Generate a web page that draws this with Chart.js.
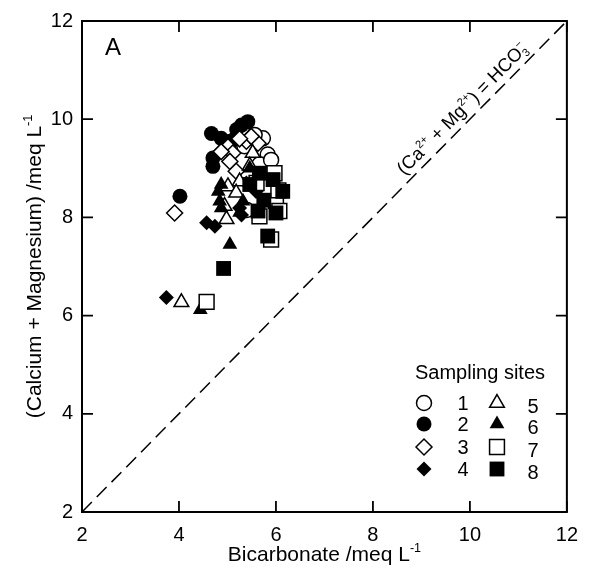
<!DOCTYPE html>
<html>
<head>
<meta charset="utf-8">
<script src="https://cdn.jsdelivr.net/npm/chart.js@4"></script>
<style>
  html, body { margin: 0; padding: 0; background: #fff; }
  canvas { display: block; }
</style>
</head>
<body>
<canvas id="chart" width="589" height="578"></canvas>
<script>
const FONT = "'Liberation Sans', Arial, sans-serif";

// axis ticks (meq/L)
const xTicks = [2, 4, 6, 8, 10, 12];
const yTicks = [2, 4, 6, 8, 10, 12];

// bicarbonate (x) vs calcium + magnesium (y), meq/L, per sampling site
const site1HCO3 = [5.73, 5.83, 5.56, 5.18, 5.40, 5.66, 5.90, 5.35];
const site1CaMg = [9.61, 9.28, 9.68, 9.61, 8.15, 9.08, 9.17, 9.45];
const site2HCO3 = [4.67, 4.87, 5.29, 5.42, 4.70, 4.70, 4.02, 5.19, 5.05];
const site2CaMg = [9.71, 9.61, 9.88, 9.95, 9.21, 9.04, 8.43, 9.79, 9.55];
const site3HCO3 = [5.01, 5.11, 5.05, 5.18, 5.39, 5.63, 5.49, 4.87, 3.91, 5.25];
const site3CaMg = [9.44, 9.31, 9.14, 8.94, 9.55, 9.51, 9.65, 9.34, 8.09, 9.60];
const site4HCO3 = [4.57, 4.74, 5.25, 5.59, 5.39, 3.74, 5.29];
const site4CaMg = [7.89, 7.82, 8.19, 8.53, 8.70, 6.37, 8.05];
const site5HCO3 = [5.52, 5.25, 5.01, 5.18, 4.94, 4.98, 4.05, 5.46];
const site5CaMg = [9.31, 8.73, 8.63, 8.50, 8.23, 7.96, 6.27, 9.05];
const site6HCO3 = [4.87, 4.81, 4.84, 4.87, 5.32, 5.46, 5.05, 4.44, 5.25];
const site6CaMg = [8.67, 8.53, 8.33, 8.19, 8.33, 9.00, 7.45, 6.12, 8.10];
const site7HCO3 = [5.97, 6.00, 5.66, 5.90, 6.07, 4.57, 5.60, 6.05];
const site7CaMg = [8.90, 8.33, 8.02, 7.55, 8.13, 6.28, 8.70, 8.55];
const site8HCO3 = [5.66, 5.94, 6.14, 5.63, 6.00, 5.83, 4.92, 5.46, 5.75];
const site8CaMg = [8.90, 8.77, 8.53, 8.13, 8.09, 7.62, 6.96, 8.67, 8.35];

// 1:1 line (Ca2+ + Mg2+) = HCO3-
const lineHCO3 = [2, 12];
const lineCaMg = [2, 12];

const siteLabels = ["1", "2", "3", "4", "5", "6", "7", "8"];
const siteHCO3 = [site1HCO3, site2HCO3, site3HCO3, site4HCO3, site5HCO3, site6HCO3, site7HCO3, site8HCO3];
const siteCaMg = [site1CaMg, site2CaMg, site3CaMg, site4CaMg, site5CaMg, site6CaMg, site7CaMg, site8CaMg];

// marker look per site
const markers = [
  { style: "circle",   filled: false, r: 7.5 },
  { style: "circle",   filled: true,  r: 7.5 },
  { style: "rectRot",  filled: false, r: 8 },
  { style: "rectRot",  filled: true,  r: 7.5 },
  { style: "triangle", filled: false, r: 8.5 },
  { style: "triangle", filled: true,  r: 8.5 },
  { style: "rect",     filled: false, r: 10.5 },
  { style: "rect",     filled: true,  r: 10.5 }
];

const toPoints = (xs, ys) => xs.map((x, i) => ({ x, y: ys[i] }));

const datasets = siteLabels.map((lab, i) => ({
  label: lab,
  data: toPoints(siteHCO3[i], siteCaMg[i]),
  pointStyle: markers[i].style,
  pointRadius: markers[i].r,
  pointHoverRadius: markers[i].r,
  backgroundColor: markers[i].filled ? "#000" : "#fff",
  borderColor: "#000",
  borderWidth: markers[i].filled ? 0 : 1.5,
  order: 8 - i   // later sites drawn on top
}));

datasets.push({
  label: "1:1",
  data: toPoints(lineHCO3, lineCaMg),
  showLine: true,
  pointRadius: 0,
  borderColor: "#000",
  borderWidth: 1.5,
  borderDash: [14, 7],
  order: 50
});

// text with super/subscripts: parts = [[text, mode]], mode n|sup|sub|subsup
function richWidth(ctx, parts, size) {
  let w = 0;
  parts.forEach(([t, m]) => {
    if (m === "n") { ctx.font = size + "px " + FONT; w += ctx.measureText(t).width; }
    else if (m === "subsup") {
      ctx.font = (size * 0.6) + "px " + FONT;
      w += Math.max(ctx.measureText(t[0]).width, ctx.measureText(t[1]).width);
    } else { ctx.font = (size * 0.6) + "px " + FONT; w += ctx.measureText(t).width; }
  });
  return w;
}
function drawRich(ctx, parts, x, y, size) {
  let cx = x;
  ctx.textBaseline = "alphabetic";
  ctx.textAlign = "left";
  parts.forEach(([t, m]) => {
    if (m === "n") {
      ctx.font = size + "px " + FONT;
      ctx.fillText(t, cx, y);
      cx += ctx.measureText(t).width;
    } else if (m === "sup") {
      ctx.font = (size * 0.6) + "px " + FONT;
      ctx.fillText(t, cx, y - size * 0.42);
      cx += ctx.measureText(t).width;
    } else if (m === "sub") {
      ctx.font = (size * 0.6) + "px " + FONT;
      ctx.fillText(t, cx, y + size * 0.2);
      cx += ctx.measureText(t).width;
    } else {
      ctx.font = (size * 0.6) + "px " + FONT;
      ctx.fillText(t[0], cx, y + size * 0.2);
      ctx.fillText(t[1], cx, y - size * 0.42);
      cx += Math.max(ctx.measureText(t[0]).width, ctx.measureText(t[1]).width);
    }
  });
}

const decor = {
  id: "decor",
  afterDraw(chart) {
    const { ctx, chartArea: a, scales: { x, y } } = chart;
    ctx.save();
    ctx.fillStyle = "#000";
    ctx.strokeStyle = "#000";

    // frame
    ctx.lineWidth = 2;
    ctx.strokeRect(a.left, a.top, a.right - a.left, a.bottom - a.top);

    // inward ticks on all four sides
    const tl = 11;
    ctx.lineWidth = 1.8;
    ctx.beginPath();
    xTicks.forEach(v => {
      const px = x.getPixelForValue(v);
      ctx.moveTo(px, a.bottom); ctx.lineTo(px, a.bottom - tl);
      ctx.moveTo(px, a.top); ctx.lineTo(px, a.top + tl);
    });
    yTicks.forEach(v => {
      const py = y.getPixelForValue(v);
      ctx.moveTo(a.left, py); ctx.lineTo(a.left + tl, py);
      ctx.moveTo(a.right, py); ctx.lineTo(a.right - tl, py);
    });
    ctx.stroke();

    // panel letter
    ctx.font = "24px " + FONT;
    ctx.textAlign = "left";
    ctx.textBaseline = "alphabetic";
    ctx.fillText("A", a.left + 23, a.top + 34);

    // axis titles
    const fs = 21;
    const xt = [["Bicarbonate /meq L", "n"], ["-1", "sup"]];
    const xw = richWidth(ctx, xt, fs);
    drawRich(ctx, xt, (a.left + a.right) / 2 - xw / 2, 561, fs);

    const yt = [["(Calcium + Magnesium) /meq L", "n"], ["-1", "sup"]];
    const yw = richWidth(ctx, yt, fs);
    ctx.save();
    ctx.translate(41, (a.top + a.bottom) / 2);
    ctx.rotate(-Math.PI / 2);
    drawRich(ctx, yt, -yw / 2, 0, fs);
    ctx.restore();

    // label along the 1:1 line
    const p0 = { x: x.getPixelForValue(2), y: y.getPixelForValue(2) };
    const p1 = { x: x.getPixelForValue(12), y: y.getPixelForValue(12) };
    const ang = Math.atan2(p1.y - p0.y, p1.x - p0.x);
    const t = 10.03;
    const cxp = x.getPixelForValue(t), cyp = y.getPixelForValue(t);
    const lt = [["(Ca", "n"], ["2+", "sup"], [" + Mg", "n"], ["2+", "sup"], [") = HCO", "n"], [["3", "\u2212"], "subsup"]];
    const ls = 18.5;
    const lw = richWidth(ctx, lt, ls);
    ctx.save();
    ctx.translate(cxp, cyp);
    ctx.rotate(ang);
    drawRich(ctx, lt, -lw / 2, -7, ls);
    ctx.restore();

    // legend
    const lx = 480;
    ctx.font = "20px " + FONT;
    ctx.textAlign = "center";
    ctx.textBaseline = "alphabetic";
    ctx.fillText("Sampling sites", lx, 379);
    const rows = [403, 424, 447, 469];
    const draw = Chart.helpers.drawPoint;
    ctx.textBaseline = "middle";
    markers.forEach((m, i) => {
      const col = Math.floor(i / 4), row = i % 4;
      const sx = col === 0 ? 424 : 497;
      const nx = col === 0 ? 463 : 533;
      const ry = rows[row];
      ctx.fillStyle = m.filled ? "#000" : "#fff";
      ctx.strokeStyle = "#000";
      ctx.lineWidth = 1.5;
      ctx.setLineDash([]);
      draw(ctx, { pointStyle: m.style, radius: m.r, rotation: 0, borderWidth: m.filled ? 0 : 1.5 }, sx, ry);
      ctx.fillStyle = "#000";
      ctx.font = "20px " + FONT;
      ctx.fillText(siteLabels[i], nx, ry + (col === 1 ? 4 : 1));
    });
    ctx.restore();
  }
};

new Chart(document.getElementById("chart"), {
  type: "scatter",
  data: { datasets },
  options: {
    responsive: false,
    animation: false,
    layout: { padding: { left: 0, right: 21, top: 19, bottom: 0 } },
    plugins: { legend: { display: false }, tooltip: { enabled: false } },
    scales: {
      x: {
        type: "linear", min: 2, max: 12,
        afterBuildTicks: s => { s.ticks = xTicks.map(v => ({ value: v })); },
        afterFit: s => { s.height = 66; },
        grid: { display: false, drawTicks: false },
        border: { display: false },
        ticks: { color: "#000", padding: 11, font: { size: 20, family: FONT } }
      },
      y: {
        type: "linear", min: 2, max: 12,
        afterBuildTicks: s => { s.ticks = yTicks.map(v => ({ value: v })); },
        afterFit: s => { s.width = 82; },
        grid: { display: false, drawTicks: false },
        border: { display: false },
        ticks: { color: "#000", padding: 9, font: { size: 20, family: FONT } }
      }
    }
  },
  plugins: [decor]
});
</script>
</body>
</html>
